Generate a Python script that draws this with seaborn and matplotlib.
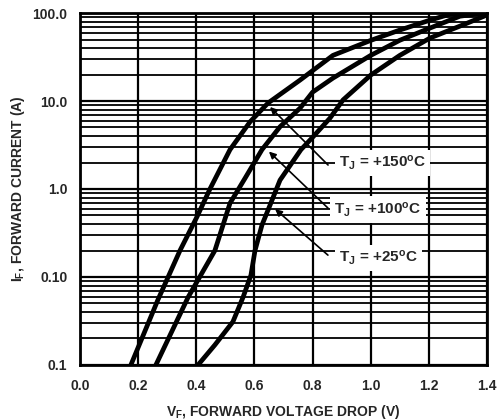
import matplotlib
matplotlib.use('Agg')
import matplotlib.pyplot as plt
import numpy as np
import pandas as pd
import seaborn as sns
from matplotlib.ticker import FixedLocator, NullFormatter

# Forward voltage (V) vs forward current (A)
v_150 = [0.175, 0.268, 0.344, 0.402, 0.447, 0.516, 0.585, 0.647, 0.757, 0.870, 1.001, 1.10, 1.204, 1.273, 1.39]
i_150 = [0.010, 0.055, 0.20, 0.48, 1.0, 2.8, 5.8, 9.5, 17.3, 33, 49, 64, 83, 97, 100]

v_100 = [0.261, 0.372, 0.464, 0.516, 0.568, 0.626, 0.688, 0.757, 0.80, 0.870, 1.0, 1.10, 1.204, 1.307, 1.39]
i_100 = [0.010, 0.059, 0.20, 0.69, 1.33, 2.8, 5.1, 8.3, 12.6, 18.2, 33, 49, 67.5, 92, 100]

v_25 = [0.406, 0.464, 0.526, 0.561, 0.588, 0.602, 0.626, 0.654, 0.688, 0.760, 0.798, 0.860, 0.905, 1.0, 1.10, 1.204, 1.307, 1.39]
i_25 = [0.010, 0.0169, 0.031, 0.059, 0.105, 0.20, 0.39, 0.66, 1.26, 2.8, 3.8, 6.4, 10.3, 19.7, 33, 52, 71, 92]

curve_labels = ['T$_\\mathrm{J}$ = +150$^\\mathrm{o}$C',
                'T$_\\mathrm{J}$ = +100$^\\mathrm{o}$C',
                'T$_\\mathrm{J}$ = +25$^\\mathrm{o}$C']

x_ticks = [0.0, 0.2, 0.4, 0.6, 0.8, 1.0, 1.2, 1.4]
x_tick_labels = ['0.0', '0.2', '0.4', '0.6', '0.8', '1.0', '1.2', '1.4']
y_ticks = [0.01, 0.1, 1, 10, 100]
y_tick_labels = ['0.1', '0.10', '1.0', '10.0', '100.0']

sns.set_style('white')
plt.rcParams['font.family'] = ['Liberation Sans', 'DejaVu Sans']
plt.rcParams['font.weight'] = 'bold'
plt.rcParams['mathtext.fontset'] = 'custom'
plt.rcParams['mathtext.rm'] = 'Liberation Sans:bold'
plt.rcParams['mathtext.it'] = 'Liberation Sans:bold'
plt.rcParams['mathtext.bf'] = 'Liberation Sans:bold'

df = pd.concat([
    pd.DataFrame({'vf': v_150, 'if': i_150, 'tj': '150'}),
    pd.DataFrame({'vf': v_100, 'if': i_100, 'tj': '100'}),
    pd.DataFrame({'vf': v_25, 'if': i_25, 'tj': '25'}),
])

fig = plt.figure(figsize=(5.0, 4.2), dpi=100)
ax = fig.add_axes([0.16, 0.131, 0.814, 0.838])

ax.set_yscale('log')
sns.lineplot(data=df, x='vf', y='if', units='tj', estimator=None, sort=False,
             color='black', linewidth=3.4, ax=ax, zorder=3,
             solid_joinstyle='round', solid_capstyle='round')

ax.set_xlim(0, 1.4)
ax.set_ylim(0.01, 100)

ax.set_xticks(x_ticks)
ax.set_xticklabels(x_tick_labels, fontsize=10, fontweight='bold')
ax.yaxis.set_major_locator(FixedLocator(y_ticks))
ax.set_yticklabels(y_tick_labels, fontsize=10, fontweight='bold')
minor = [m * 10.0 ** e for e in range(-2, 2) for m in range(2, 10)]
ax.yaxis.set_minor_locator(FixedLocator(minor))
ax.yaxis.set_minor_formatter(NullFormatter())
ax.tick_params(axis='both', which='both', length=0)
ax.tick_params(axis='y', pad=9)
ax.tick_params(axis='x', pad=10)

ax.grid(True, which='major', axis='both', color='black', linewidth=1.6)
ax.grid(True, which='minor', axis='y', color='black', linewidth=1.3)
ax.set_axisbelow(True)
for s in ax.spines.values():
    s.set_color('black')
    s.set_linewidth(2)

ax.set_xlabel('V$_\\mathrm{F}$, FORWARD VOLTAGE DROP (V)', fontsize=10, fontweight='bold', labelpad=7)
ax.set_ylabel('I$_\\mathrm{F}$, FORWARD CURRENT (A)', fontsize=10, fontweight='bold', labelpad=4)
if ax.get_legend() is not None:
    ax.get_legend().remove()

# callouts: text position, arrow tail, arrow tip on the curve
label_pos = [(0.89, 1.97), (0.875, 0.58), (0.89, 0.164)]
arrow_tail = [(0.86, 1.78), (0.86, 0.577), (0.86, 0.169)]
arrow_tip = [(0.647, 9.0), (0.643, 2.8), (0.664, 0.62)]
for lab, pos, tail, tip in zip(curve_labels, label_pos, arrow_tail, arrow_tip):
    ax.text(pos[0], pos[1], lab, fontsize=11, fontweight='bold', ha='left', va='center', zorder=5,
            bbox=dict(facecolor='white', edgecolor='none', pad=3))
    ax.annotate('', xy=tip, xytext=tail, zorder=4,
                arrowprops=dict(arrowstyle='-|>', color='black', lw=1.2, mutation_scale=10))

fig.savefig('out.png', dpi=100)
